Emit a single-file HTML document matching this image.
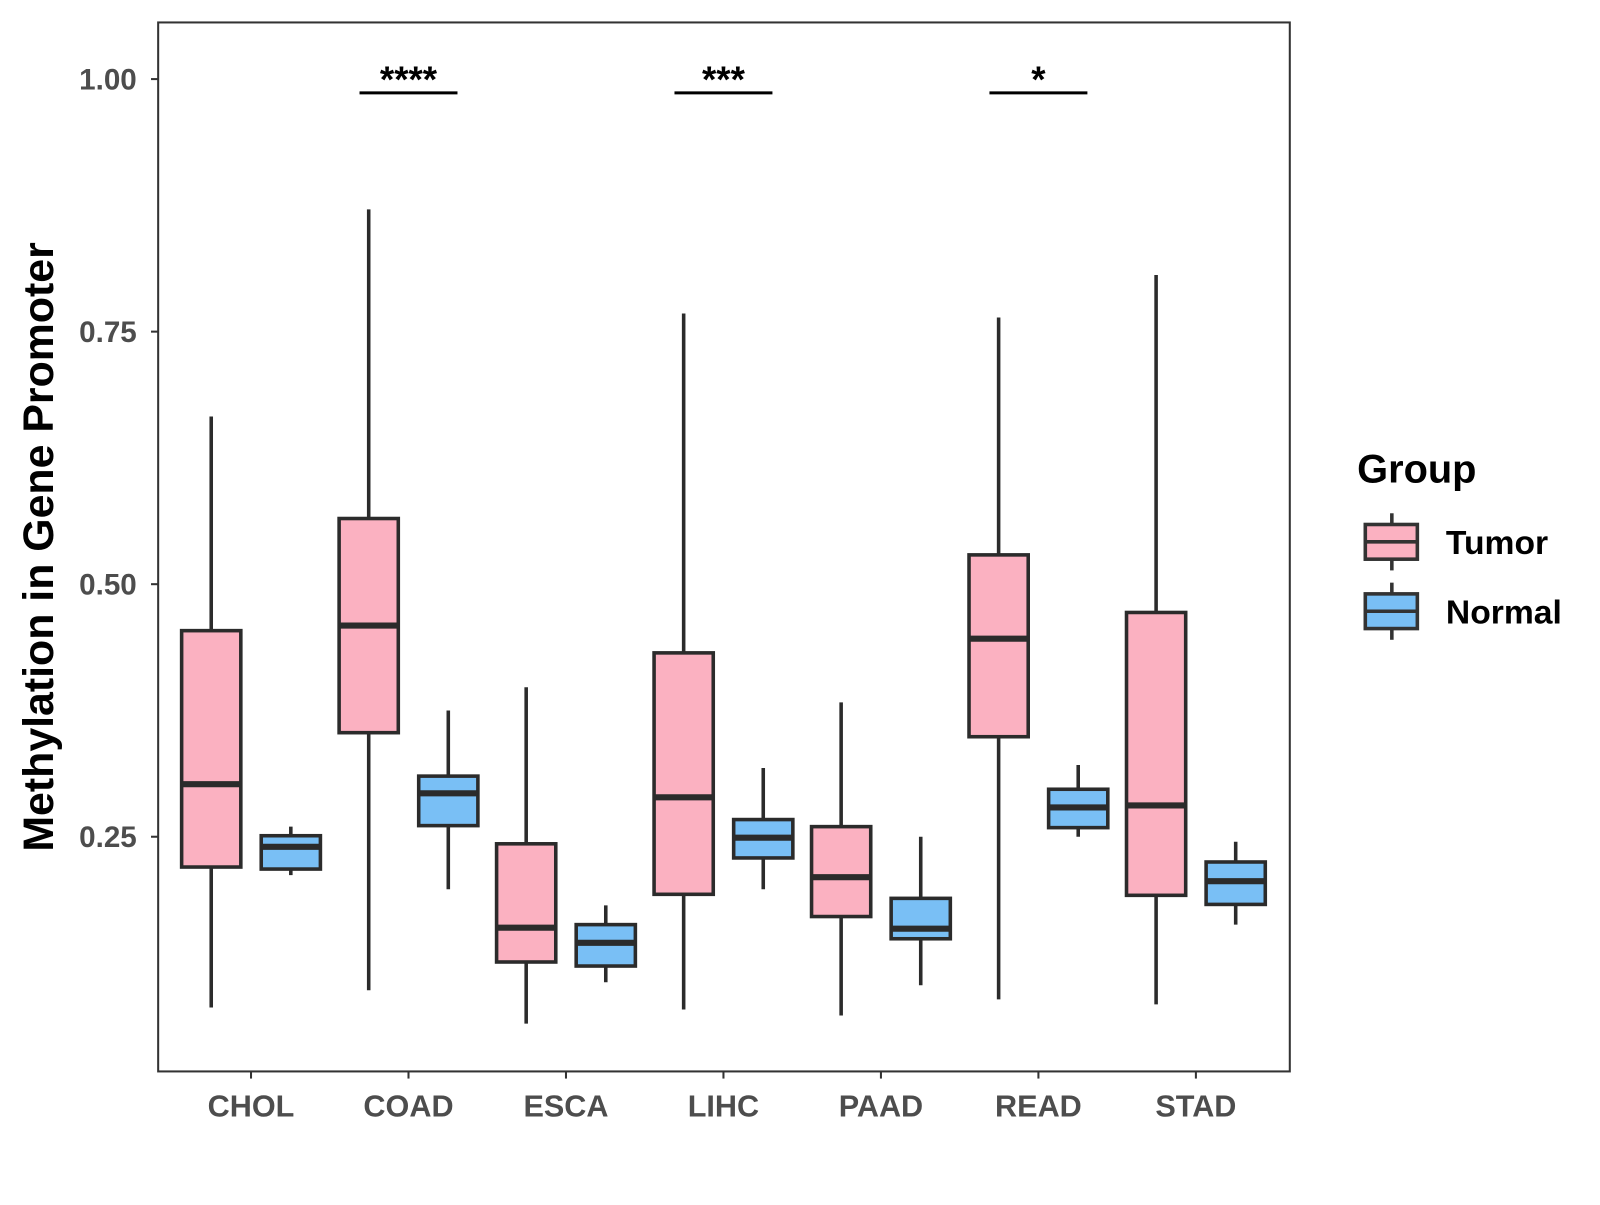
<!DOCTYPE html>
<html><head><meta charset="utf-8"><style>
body{margin:0;background:#fff;}
svg text{font-family:"Liberation Sans",Arial,sans-serif;font-weight:bold;}
</style></head><body>
<svg id="chart" width="1600" height="1200" viewBox="0 0 1568 1176">
<rect x="155" y="22" width="1109" height="1028" fill="#fff" stroke="#333" stroke-width="2"/>
<g id="marks"></g>
<text x="52" y="536" transform="rotate(-90 52 536)" text-anchor="middle" font-size="42" fill="#000">Methylation in Gene Promoter</text>
<g>
<text x="1330" y="473" font-size="39" fill="#000">Group</text>
<g>
<line x1="1364" y1="503" x2="1364" y2="559" stroke="#333" stroke-width="3.5"/>
<rect x="1338" y="514" width="51" height="34" fill="#fbb1c1" stroke="#333" stroke-width="3.5"/>
<line x1="1338" y1="531" x2="1389" y2="531" stroke="#333" stroke-width="3.5"/>
<text x="1417" y="543" font-size="33" fill="#000">Tumor</text></g>
<g>
<line x1="1364" y1="571" x2="1364" y2="627" stroke="#333" stroke-width="3.5"/>
<rect x="1338" y="582" width="51" height="34" fill="#79bff5" stroke="#333" stroke-width="3.5"/>
<line x1="1338" y1="599" x2="1389" y2="599" stroke="#333" stroke-width="3.5"/>
<text x="1417" y="611" font-size="33" fill="#000">Normal</text></g>
</g>
</svg>
<script>
const categories=["CHOL","COAD","ESCA","LIHC","PAAD","READ","STAD"];
const tumorStats=[[0.081,0.220,0.302,0.454,0.666],[0.098,0.353,0.459,0.565,0.871],[0.065,0.126,0.160,0.243,0.398],[0.079,0.193,0.289,0.432,0.768],[0.073,0.171,0.210,0.260,0.383],[0.089,0.349,0.446,0.529,0.764],[0.084,0.192,0.281,0.472,0.806]];
const normalStats=[[0.212,0.218,0.240,0.251,0.260],[0.198,0.261,0.293,0.310,0.375],[0.106,0.122,0.145,0.163,0.182],[0.198,0.229,0.249,0.267,0.318],[0.103,0.149,0.159,0.189,0.250],[0.250,0.259,0.279,0.297,0.321],[0.163,0.183,0.206,0.225,0.245]];
const yTicks=[0.25,0.50,0.75,1.00];
const yTickLabels=["0.25","0.50","0.75","1.00"];
const sigCats=["COAD","LIHC","READ"];
const sigLabels=["****","***","*"];
const NS="http://www.w3.org/2000/svg";
const g=document.getElementById('marks');
function y(v){return 820-(v-0.25)*990;}
function x(i){return 246+i*154.33;}
function el(t,a,p){const e=document.createElementNS(NS,t);for(const k in a)e.setAttribute(k,a[k]);(p||g).appendChild(e);return e;}
yTicks.forEach((v,i)=>{
 const l=el('line',{x1:148,x2:155,y1:y(v),y2:y(v),stroke:'#333','stroke-width':2});
 
 
 const t=el('text',{x:134,y:y(v)+10,'text-anchor':'end','font-size':29,fill:'#4d4d4d'});
 t.textContent=yTickLabels[i];
 
 
});
categories.forEach((c,i)=>{
 const l=el('line',{x1:x(i),x2:x(i),y1:1050,y2:1057,stroke:'#333','stroke-width':2});
 
 
 const t=el('text',{x:x(i),y:1094,'text-anchor':'middle','font-size':30,fill:'#4d4d4d'});
 t.textContent=c;
 
 
});
function box(cx,s,fill,name){
 const grp=el('g',{});
 
 
 el('line',{x1:cx,x2:cx,y1:y(s[0]),y2:y(s[4]),stroke:'#2b2b2b','stroke-width':3.5},grp);
 el('rect',{x:cx-29,width:58,y:y(s[3]),height:y(s[1])-y(s[3]),fill:fill,stroke:'#2b2b2b','stroke-width':3.5},grp);
 el('line',{x1:cx-29,x2:cx+29,y1:y(s[2]),y2:y(s[2]),stroke:'#2b2b2b','stroke-width':6},grp);
}
categories.forEach((c,i)=>{
 box(x(i)-39,tumorStats[i],'#fbb1c1','box-tumor-'+c.toLowerCase());
 box(x(i)+39,normalStats[i],'#79bff5','box-normal-'+c.toLowerCase());
});
sigCats.forEach((c,k)=>{
 const i=categories.indexOf(c);
 const l=el('line',{x1:x(i)-48,x2:x(i)+48,y1:91,y2:91,stroke:'#000','stroke-width':3});
 
 
 const t=el('text',{x:x(i),y:90,'text-anchor':'middle','font-size':36,fill:'#000'});
 t.textContent=sigLabels[k];
 
 
});
</script>
</body></html>
